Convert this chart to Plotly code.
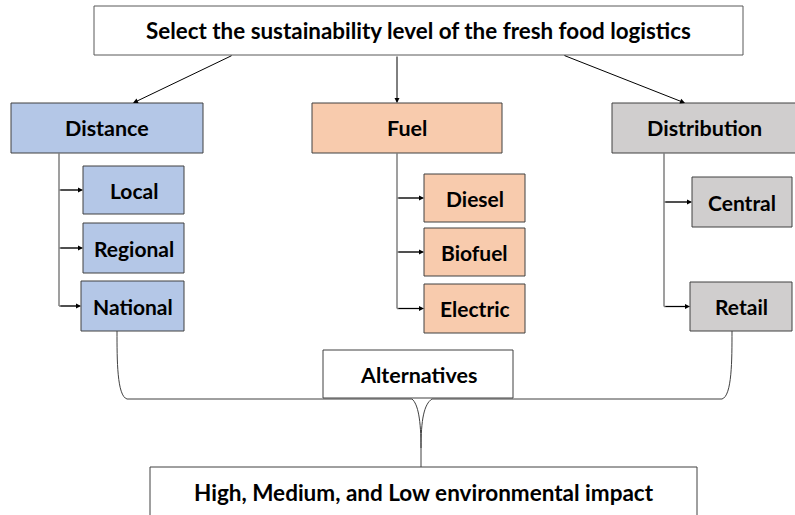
import plotly.graph_objects as go

# ---- content ----
root_label = "Select the sustainability level of the fresh food logistics"
criteria = ["Distance", "Fuel", "Distribution"]
distance_options = ["Local", "Regional", "National"]
fuel_options = ["Diesel", "Biofuel", "Electric"]
distribution_options = ["Central", "Retail"]
alternatives_label = "Alternatives"
outcome_label = "High, Medium, and Low environmental impact"

# ---- layout (pixel geometry) ----
W, H = 795, 515
FONT = "Lato"
BLUE, ORANGE, GRAY = "#B4C7E7", "#F8CBAD", "#D0CECE"
EDGE = "#404040"
LINE = "#7F7F7F"

root_box = (94, 6, 743, 55)
crit_boxes = [(11, 103, 203, 153), (312, 103, 502, 153), (612, 103, 797, 153)]
crit_fill = [BLUE, ORANGE, GRAY]
opt_boxes = [
    [(83, 166, 184, 214), (83, 223, 184, 273), (81, 281, 184, 331)],
    [(424, 174, 525, 222), (424, 228, 525, 276), (424, 284, 525, 333)],
    [(692, 177, 792, 227), (690, 282, 792, 331)],
]
trunk_x = [59, 397, 664]
alt_box = (323, 350, 513, 398)
out_box = (150, 467, 697, 540)

fig = go.Figure()
shapes = []
ann = []


def box(b, fill, edge=EDGE, width=1):
    shapes.append(dict(type="rect", x0=b[0], y0=b[1], x1=b[2], y1=b[3],
                       xref="x", yref="y", fillcolor=fill,
                       line=dict(color=edge, width=width), layer="above"))


def label(text, x, y, size):
    ann.append(dict(text="<b>%s</b>" % text, x=x, y=y, xref="x", yref="y",
                    showarrow=False, xanchor="center", yanchor="middle",
                    font=dict(family=FONT, size=size, color="#000000")))


def arrow(x0, y0, x1, y1):
    ann.append(dict(text="", x=x1, y=y1, ax=x0, ay=y0, xref="x", yref="y",
                    axref="x", ayref="y", showarrow=True, arrowhead=2,
                    arrowsize=1, arrowwidth=1, arrowcolor="#000000", standoff=0))


# root
box(root_box, "#FFFFFF", edge="#595959")
label(root_label, (root_box[0] + root_box[2]) / 2, 30, 22.4)

# root -> criteria arrows
arrow(233, 55, 133, 103)
arrow(397, 55, 397, 103)
arrow(563, 55, 685, 103)

# criteria
for name, b, f in zip(criteria, crit_boxes, crit_fill):
    box(b, f)
    label(name, (b[0] + b[2]) / 2, 128, 21.5)

# options with trunk lines
all_opts = [distance_options, fuel_options, distribution_options]
for i, (opts, bxs) in enumerate(zip(all_opts, opt_boxes)):
    tx = trunk_x[i]
    ys = [(b[1] + b[3]) / 2 for b in bxs]
    shapes.append(dict(type="line", x0=tx, y0=153, x1=tx, y1=ys[-1],
                       xref="x", yref="y", line=dict(color=LINE, width=1.5)))
    for name, b, yc in zip(opts, bxs, ys):
        shapes.append(dict(type="line", x0=tx, y0=yc, x1=b[0] - 5, y1=yc,
                           xref="x", yref="y", line=dict(color=LINE, width=1.5)))
        arrow(tx, yc, b[0], yc)
        box(b, crit_fill[i])
        label(name, (b[0] + b[2]) / 2, yc, 21)

# brace
brace = ("M 117,331 C 117,360 117,396 127,399 L 412,399 "
         "C 418,404 421,420 421,448 "
         "M 732,331 C 732,360 732,396 722,399 L 432,399 "
         "C 424,404 421,420 421,448 L 421,467")
shapes.append(dict(type="path", path=brace, xref="x", yref="y",
                   line=dict(color="#404040", width=1)))

box(alt_box, "#FFFFFF", edge="#404040")
label(alternatives_label, (alt_box[0] + alt_box[2]) / 2, 375, 21.5)

box(out_box, "#FFFFFF", edge="#404040")
label(outcome_label, (out_box[0] + out_box[2]) / 2, 492, 22.5)

fig.update_layout(
    width=W, height=H, margin=dict(l=0, r=0, t=0, b=0),
    paper_bgcolor="#FFFFFF", plot_bgcolor="#FFFFFF",
    xaxis=dict(range=[0, W], visible=False, fixedrange=True),
    yaxis=dict(range=[H, 0], visible=False, fixedrange=True),
    shapes=shapes, annotations=ann, showlegend=False,
)
fig.write_html("out.html", config={"displayModeBar": False},
               post_script="document.body.style.margin='0';document.body.style.overflow='hidden';")
